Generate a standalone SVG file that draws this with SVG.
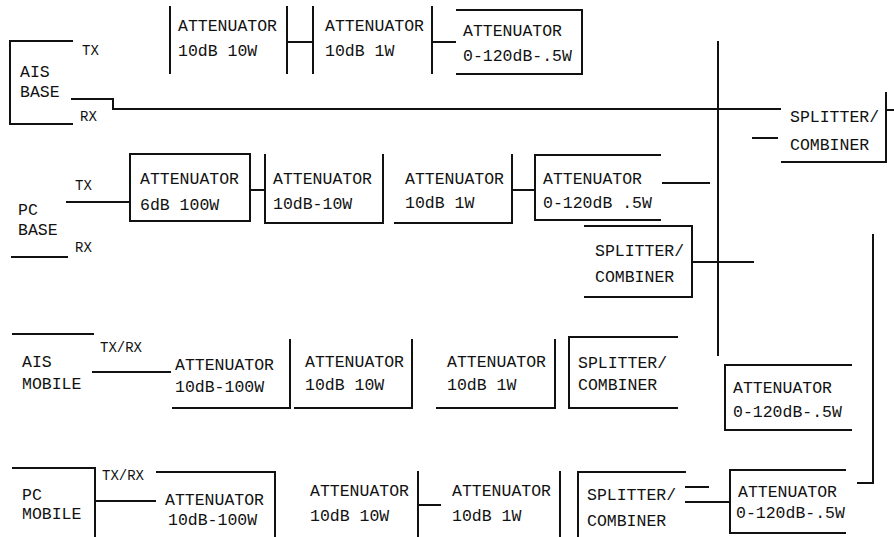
<svg xmlns="http://www.w3.org/2000/svg" width="894" height="537" viewBox="0 0 894 537">
<style>
.l{fill:none;stroke:#111;stroke-width:2;stroke-linecap:square}
text{font-family:"Liberation Mono","DejaVu Sans Mono",monospace;font-size:16.5px;fill:#111}
.s{font-size:14px}
</style>
<rect width="894" height="537" fill="#fff"/>
<g id="connectors" class="l">
<polyline points="72,99 113,99 113,109 780,109"/>
<line x1="287" y1="42" x2="313" y2="42"/>
<line x1="432" y1="42" x2="455" y2="42"/>
<line x1="718" y1="42" x2="718" y2="355"/>
<line x1="753" y1="138" x2="777" y2="138"/>
<line x1="886" y1="110" x2="894" y2="110"/>
<line x1="67" y1="202" x2="130" y2="202"/>
<line x1="250" y1="190" x2="265" y2="190"/>
<line x1="512" y1="190" x2="535" y2="190"/>
<line x1="663" y1="183" x2="709" y2="183"/>
<line x1="692" y1="262" x2="753" y2="262"/>
<line x1="93" y1="372" x2="170" y2="372"/>
<polyline points="873,235 873,483 858,483"/>
<line x1="95" y1="501" x2="155" y2="501"/>
<line x1="418" y1="505" x2="440" y2="505"/>
<line x1="686" y1="487" x2="708" y2="487"/>
<line x1="686" y1="502" x2="730" y2="502"/>
</g>
<g id="ais-base">
<polyline class="l" points="72,41 10,41 10,124 72,124"/>
<text x="20" y="77">AIS</text><text x="20" y="97">BASE</text>
<text class="s" x="82" y="55">TX</text><text class="s" x="80" y="121">RX</text>
</g>
<g id="att-r1-1">
<line class="l" x1="170" y1="7" x2="170" y2="73"/><line class="l" x1="287" y1="7" x2="287" y2="73"/>
<text x="178" y="31">ATTENUATOR</text><text x="178" y="56">10dB 10W</text>
</g>
<g id="att-r1-2">
<line class="l" x1="313" y1="7" x2="313" y2="73"/><line class="l" x1="432" y1="7" x2="432" y2="73"/>
<text x="325" y="31">ATTENUATOR</text><text x="325" y="56">10dB 1W</text>
</g>
<g id="att-r1-3">
<polyline class="l" points="457,10 582,10 582,74 457,74"/>
<text x="463" y="36">ATTENUATOR</text><text x="463" y="61">0-120dB-.5W</text>
</g>
<g id="split-r1">
<polyline class="l" points="886,93 886,162 782,162"/>
<text x="790" y="122">SPLITTER/</text><text x="790" y="150">COMBINER</text>
</g>
<g id="pc-base">
<line class="l" x1="12" y1="257" x2="67" y2="257"/>
<text x="18" y="215">PC</text><text x="18" y="235">BASE</text>
<text class="s" x="75" y="190">TX</text><text class="s" x="75" y="252">RX</text>
</g>
<g id="att-r2-1">
<rect class="l" x="130" y="154" width="120" height="67"/>
<text x="140" y="184">ATTENUATOR</text><text x="140" y="210">6dB 100W</text>
</g>
<g id="att-r2-2">
<polyline class="l" points="265,155 265,223 383,223 383,155"/>
<text x="273" y="184">ATTENUATOR</text><text x="273" y="209">10dB-10W</text>
</g>
<g id="att-r2-3">
<polyline class="l" points="395,223 512,223 512,155"/>
<text x="405" y="184">ATTENUATOR</text><text x="405" y="208">10dB 1W</text>
</g>
<g id="att-r2-4">
<polyline class="l" points="660,155 535,155 535,220 660,220"/>
<text x="543" y="184">ATTENUATOR</text><text x="543" y="208">0-120dB .5W</text>
</g>
<g id="split-r2">
<polyline class="l" points="585,226 692,226 692,297 585,297"/>
<text x="595" y="256">SPLITTER/</text><text x="595" y="282">COMBINER</text>
</g>
<g id="ais-mobile">
<line class="l" x1="13" y1="334" x2="93" y2="334"/>
<text x="22" y="367">AIS</text><text x="22" y="389">MOBILE</text>
<text class="s" x="100" y="352">TX/RX</text>
</g>
<g id="att-r3-1">
<polyline class="l" points="173,408 290,408 290,340"/>
<text x="175" y="370">ATTENUATOR</text><text x="175" y="392">10dB-100W</text>
</g>
<g id="att-r3-2">
<polyline class="l" points="295,408 412,408 412,340"/>
<text x="305" y="367">ATTENUATOR</text><text x="305" y="390">10dB 10W</text>
</g>
<g id="att-r3-3">
<polyline class="l" points="437,408 555,408 555,340"/>
<text x="447" y="367">ATTENUATOR</text><text x="447" y="390">10dB 1W</text>
</g>
<g id="split-r3">
<polyline class="l" points="677,337 569,337 569,408 677,408"/>
<text x="578" y="368">SPLITTER/</text><text x="578" y="390">COMBINER</text>
</g>
<g id="att-r3-4">
<polyline class="l" points="851,365 725,365 725,430 851,430"/>
<text x="733" y="393">ATTENUATOR</text><text x="733" y="417">0-120dB-.5W</text>
</g>
<g id="pc-mobile">
<polyline class="l" points="13,468 95,468 95,537"/>
<text x="22" y="500">PC</text><text x="22" y="519">MOBILE</text>
<text class="s" x="102" y="480">TX/RX</text>
</g>
<g id="att-r4-1">
<polyline class="l" points="157,472 275,472 275,537"/>
<text x="165" y="505">ATTENUATOR</text><text x="168" y="525">10dB-100W</text>
</g>
<g id="att-r4-2">
<line class="l" x1="418" y1="472" x2="418" y2="537"/>
<text x="310" y="496">ATTENUATOR</text><text x="310" y="521">10dB 10W</text>
</g>
<g id="att-r4-3">
<line class="l" x1="560" y1="472" x2="560" y2="537"/>
<text x="452" y="496">ATTENUATOR</text><text x="452" y="521">10dB 1W</text>
</g>
<g id="split-r4">
<polyline class="l" points="685,472 578,472 578,537"/>
<text x="587" y="500">SPLITTER/</text><text x="587" y="526">COMBINER</text>
</g>
<g id="att-r4-4">
<polyline class="l" points="845,470 730,470 730,533 845,533"/>
<text x="738" y="497">ATTENUATOR</text><text x="736" y="518">0-120dB-.5W</text>
</g>
</svg>
